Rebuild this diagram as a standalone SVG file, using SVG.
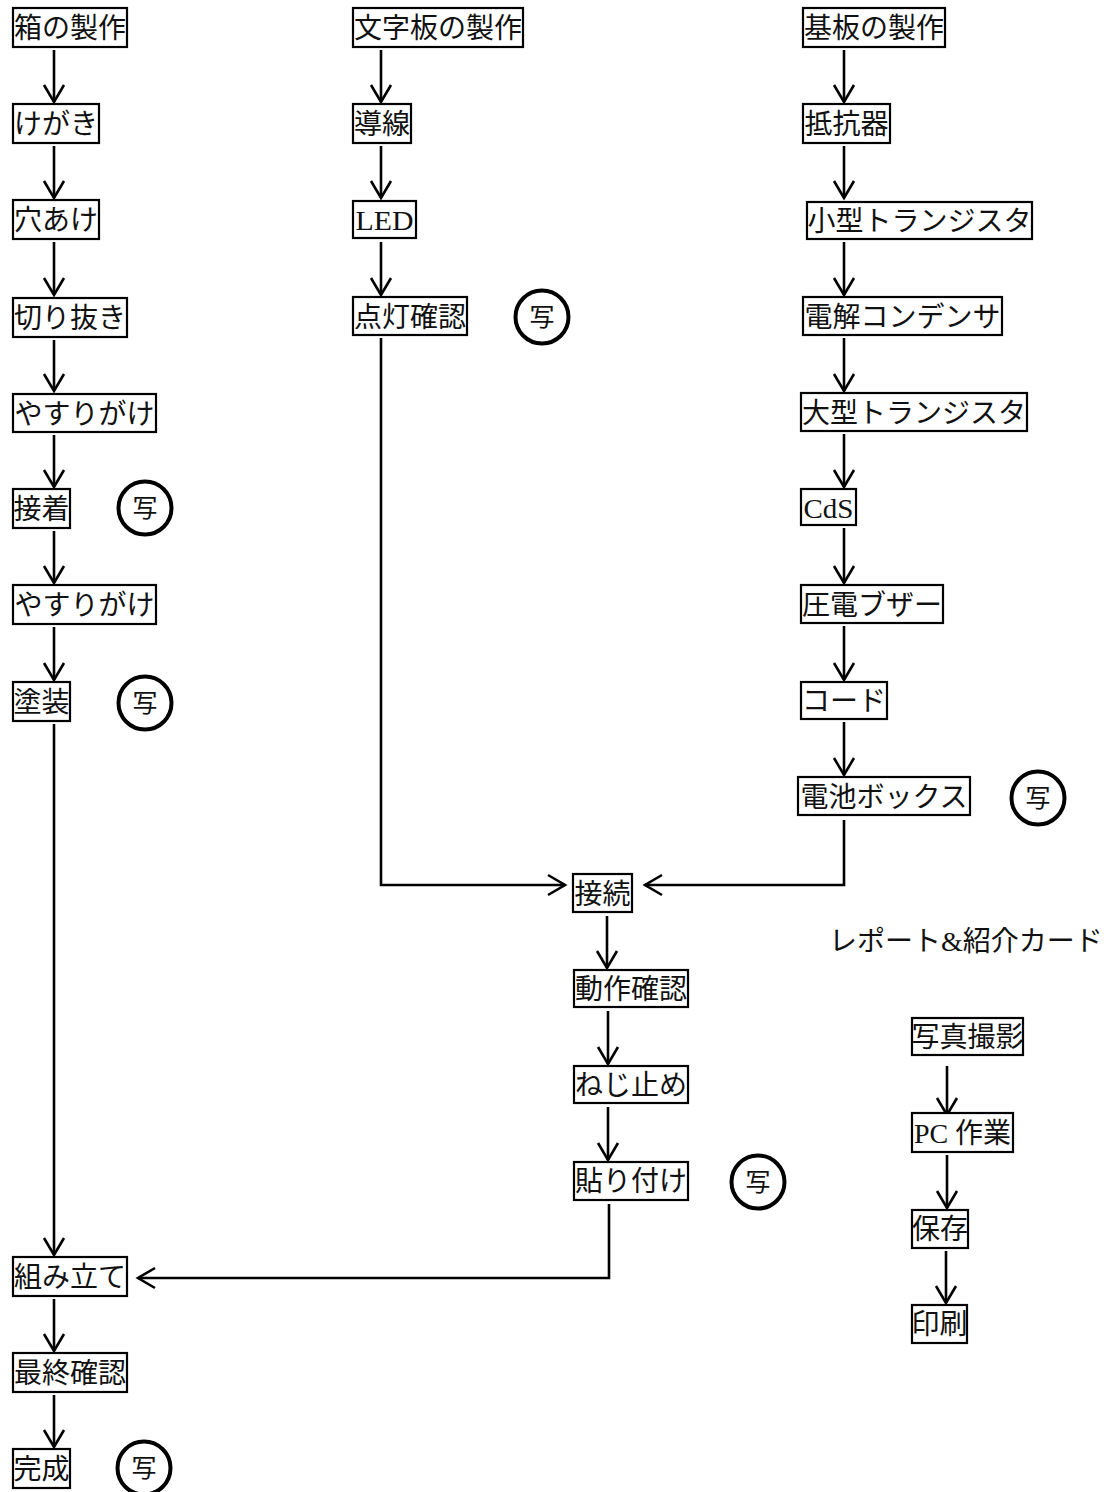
<svg xmlns="http://www.w3.org/2000/svg" width="1109" height="1492" viewBox="0 0 1109 1492">
<style>
.b rect{fill:#fff;stroke:#000;stroke-width:2.2}
text{font-family:"Liberation Serif","Noto Sans CJK JP",serif;font-size:28px;fill:#111}
.b text{text-anchor:middle}
.c circle{fill:none;stroke:#000;stroke-width:4}
.c text{font-size:25px;text-anchor:middle}
#connectors path{fill:none;stroke:#000;stroke-width:2.6}
</style>
<defs>
<marker id="ah" viewBox="-20 -12 24 24" markerWidth="24" markerHeight="24" refX="0" refY="0" orient="auto" markerUnits="userSpaceOnUse">
<path d="M-17,-10 L0,0 L-17,10" fill="none" stroke="#000" stroke-width="2.6"/>
</marker>
</defs>
<rect width="1109" height="1492" fill="#fff"/>

<g id="connectors">
<!-- column 1 -->
<path d="M54,50 V102" marker-end="url(#ah)"/>
<path d="M54,146 V198" marker-end="url(#ah)"/>
<path d="M54,242 V295" marker-end="url(#ah)"/>
<path d="M54,340 V391" marker-end="url(#ah)"/>
<path d="M54,435 V487" marker-end="url(#ah)"/>
<path d="M54,531 V583" marker-end="url(#ah)"/>
<path d="M54,627 V680" marker-end="url(#ah)"/>
<path d="M54,724 V1255" marker-end="url(#ah)"/>
<path d="M54,1299 V1351" marker-end="url(#ah)"/>
<path d="M54,1395 V1447" marker-end="url(#ah)"/>
<!-- column 2 -->
<path d="M381,50 V102" marker-end="url(#ah)"/>
<path d="M381,146 V198" marker-end="url(#ah)"/>
<path d="M381,242 V295" marker-end="url(#ah)"/>
<path d="M381,338 V885 H565" marker-end="url(#ah)"/>
<!-- column 3 -->
<path d="M844,50 V102" marker-end="url(#ah)"/>
<path d="M844,146 V198" marker-end="url(#ah)"/>
<path d="M844,242 V295" marker-end="url(#ah)"/>
<path d="M844,338 V391" marker-end="url(#ah)"/>
<path d="M844,434 V487" marker-end="url(#ah)"/>
<path d="M844,528 V583" marker-end="url(#ah)"/>
<path d="M844,626 V680" marker-end="url(#ah)"/>
<path d="M844,722 V775" marker-end="url(#ah)"/>
<path d="M844,820 V885 H645" marker-end="url(#ah)"/>
<!-- middle lower -->
<path d="M607,916 V968" marker-end="url(#ah)"/>
<path d="M608,1011 V1064" marker-end="url(#ah)"/>
<path d="M608,1107 V1160" marker-end="url(#ah)"/>
<path d="M609,1204 V1278 H138" marker-end="url(#ah)"/>
<!-- report column -->
<path d="M947,1066 V1115" marker-end="url(#ah)"/>
<path d="M947,1155 V1208" marker-end="url(#ah)"/>
<path d="M946,1251 V1303" marker-end="url(#ah)"/>
</g>

<!-- column 1 nodes -->
<g id="n-hako" class="b"><rect x="13" y="8" width="114" height="39"/><text x="70" y="38">箱の製作</text></g>
<g id="n-kegaki" class="b"><rect x="13" y="104" width="86" height="39"/><text x="56" y="134">けがき</text></g>
<g id="n-anaake" class="b"><rect x="13" y="200" width="86" height="39"/><text x="56" y="230">穴あけ</text></g>
<g id="n-kirinuki" class="b"><rect x="13" y="298" width="114" height="39"/><text x="70" y="328">切り抜き</text></g>
<g id="n-yasuri1" class="b"><rect x="13" y="394" width="143" height="38"/><text x="84.5" y="424">やすりがけ</text></g>
<g id="n-secchaku" class="b"><rect x="13" y="489" width="57" height="39"/><text x="41.5" y="519">接着</text></g>
<g id="n-yasuri2" class="b"><rect x="13" y="585" width="143" height="39"/><text x="84.5" y="615">やすりがけ</text></g>
<g id="n-tosou" class="b"><rect x="13" y="682" width="57" height="39"/><text x="41.5" y="712">塗装</text></g>
<g id="n-kumitate" class="b"><rect x="13" y="1257" width="114" height="39"/><text x="70" y="1287">組み立て</text></g>
<g id="n-saishu" class="b"><rect x="13" y="1353" width="114" height="39"/><text x="70" y="1383">最終確認</text></g>
<g id="n-kansei" class="b"><rect x="13" y="1449" width="57" height="39"/><text x="41.5" y="1479">完成</text></g>

<!-- column 2 nodes -->
<g id="n-mojiban" class="b"><rect x="353" y="8" width="170" height="39"/><text x="438" y="38">文字板の製作</text></g>
<g id="n-dousen" class="b"><rect x="353" y="104" width="58" height="39"/><text x="382" y="134">導線</text></g>
<g id="n-led" class="b"><rect x="353" y="201" width="63" height="37"/><text x="384.5" y="230" textLength="58" lengthAdjust="spacingAndGlyphs">LED</text></g>
<g id="n-tentou" class="b"><rect x="353" y="297" width="114" height="38"/><text x="410" y="327">点灯確認</text></g>

<!-- column 3 nodes -->
<g id="n-kiban" class="b"><rect x="803" y="8" width="142" height="39"/><text x="874" y="38">基板の製作</text></g>
<g id="n-teikou" class="b"><rect x="803" y="104" width="87" height="39"/><text x="846.5" y="134">抵抗器</text></g>
<g id="n-kogata" class="b"><rect x="807" y="202" width="225" height="37"/><text x="919.5" y="231">小型トランジスタ</text></g>
<g id="n-denkai" class="b"><rect x="803" y="297" width="199" height="38"/><text x="902.5" y="327">電解コンデンサ</text></g>
<g id="n-oogata" class="b"><rect x="801" y="393" width="226" height="38"/><text x="914" y="423">大型トランジスタ</text></g>
<g id="n-cds" class="b"><rect x="801" y="489" width="55" height="36"/><text x="828.5" y="518" textLength="50" lengthAdjust="spacingAndGlyphs">CdS</text></g>
<g id="n-atsuden" class="b"><rect x="801" y="585" width="142" height="38"/><text x="872" y="615">圧電ブザー</text></g>
<g id="n-code" class="b"><rect x="801" y="682" width="86" height="37"/><text x="844" y="711">コード</text></g>
<g id="n-denchi" class="b"><rect x="798" y="777" width="172" height="38"/><text x="884" y="807">電池ボックス</text></g>

<!-- middle lower nodes -->
<g id="n-setsuzoku" class="b"><rect x="573" y="874" width="59" height="38"/><text x="602.5" y="904">接続</text></g>
<g id="n-dousa" class="b"><rect x="574" y="970" width="114" height="37"/><text x="631" y="999">動作確認</text></g>
<g id="n-nejidome" class="b"><rect x="574" y="1066" width="114" height="37"/><text x="631" y="1095">ねじ止め</text></g>
<g id="n-haritsuke" class="b"><rect x="574" y="1162" width="114" height="38"/><text x="631" y="1191">貼り付け</text></g>

<!-- report section -->
<g id="n-report"><text x="829" y="951">レポート&amp;紹介カード</text></g>
<g id="n-shashin" class="b"><rect x="912" y="1018" width="111" height="37"/><text x="967.5" y="1047">写真撮影</text></g>
<g id="n-pc" class="b"><rect x="912" y="1113" width="101" height="39"/><text x="962.5" y="1143">PC 作業</text></g>
<g id="n-hozon" class="b"><rect x="912" y="1210" width="56" height="38"/><text x="940" y="1239">保存</text></g>
<g id="n-insatsu" class="b"><rect x="912" y="1305" width="55" height="38"/><text x="939.5" y="1334">印刷</text></g>

<!-- photo marks -->
<g id="p-tentou" class="c"><circle cx="542" cy="317" r="26.5"/><text x="542" y="326">写</text></g>
<g id="p-secchaku" class="c"><circle cx="145" cy="508" r="26.5"/><text x="145" y="517">写</text></g>
<g id="p-tosou" class="c"><circle cx="145" cy="703" r="26.5"/><text x="145" y="712">写</text></g>
<g id="p-denchi" class="c"><circle cx="1038" cy="798" r="26.5"/><text x="1038" y="807">写</text></g>
<g id="p-haritsuke" class="c"><circle cx="758" cy="1182" r="26.5"/><text x="758" y="1191">写</text></g>
<g id="p-kansei" class="c"><circle cx="144" cy="1468" r="26.5"/><text x="144" y="1477">写</text></g>
</svg>
